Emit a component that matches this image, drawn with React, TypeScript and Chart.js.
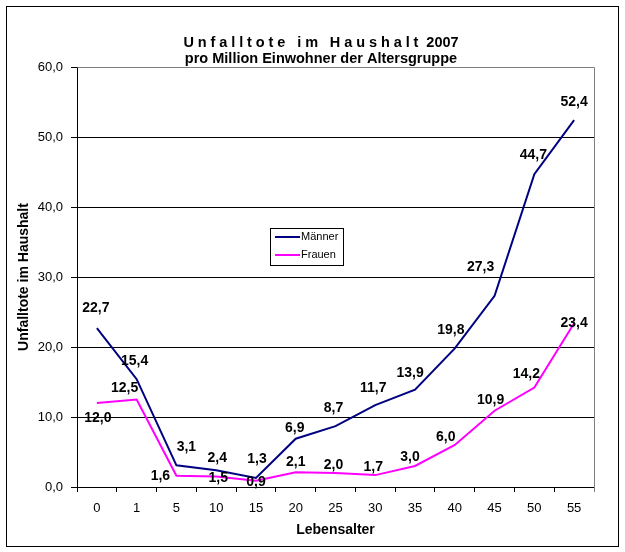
import React, { useEffect, useRef } from 'react';
import { Chart, registerables } from 'chart.js';

Chart.register(...registerables);

// ---- data ----
const ageGroups = ['0', '1', '5', '10', '15', '20', '25', '30', '35', '40', '45', '50', '55'];
const maenner = [22.7, 15.4, 3.1, 2.4, 1.3, 6.9, 8.7, 11.7, 13.9, 19.8, 27.3, 44.7, 52.4];
const frauen = [12.0, 12.5, 1.6, 1.5, 0.9, 2.1, 2.0, 1.7, 3.0, 6.0, 10.9, 14.2, 23.4];
const yMin = 0;
const yMax = 60;
const yStep = 10;

const titleSpaced = 'Unfalltote im Haushalt';
const titleYear = '2007';
const subtitle = 'pro Million Einwohner der Altersgruppe';
const yTitle = 'Unfalltote im Haushalt';
const xTitle = 'Lebensalter';
const seriesNames = ['Männer', 'Frauen'];

// ---- style ----
const FONT = '"Liberation Sans", Arial, sans-serif';
const colors = ['#000080', '#FF00FF'];
// label offsets (dx, dy) relative to each point, as placed in the original
const labelOffsets = [
  [[-1, -20], [-2, -18], [10, -18], [1, -12], [1, -19], [-1, -11], [-2, -18], [-2, -17], [-5, -17], [-4, -18], [-14, -29], [-1, -19], [0, -18]],
  [[1, 15], [-12, -11], [-16, 0], [2, 2], [0, 1], [0, -10], [-2, -8], [-2, -8], [-5, -9], [-9, -8], [-4, -11], [-8, -13], [0, 0]],
];

const fmt = (v: number) => v.toFixed(1).replace('.', ',');

const decorPlugin = {
  id: 'decor',
  beforeDraw(chart: any) {
    const ctx = chart.ctx;
    ctx.save();
    ctx.fillStyle = '#fff';
    ctx.fillRect(0, 0, chart.width, chart.height);
    ctx.restore();
  },
  afterDraw(chart: any) {
    const ctx = chart.ctx;
    const area = chart.chartArea;
    ctx.save();
    // outer frame
    ctx.strokeStyle = '#000';
    ctx.lineWidth = 1;
    ctx.strokeRect(6.5, 6.5, 612, 540);

    // gray plot border (top/right)
    ctx.strokeStyle = '#808080';
    ctx.beginPath();
    ctx.moveTo(Math.round(area.left) + 0.5, Math.round(area.top) + 0.5);
    ctx.lineTo(Math.round(area.right) + 0.5, Math.round(area.top) + 0.5);
    ctx.lineTo(Math.round(area.right) + 0.5, Math.round(area.bottom) + 5);
    ctx.stroke();

    // title
    ctx.fillStyle = '#000';
    ctx.font = `bold 14.5px ${FONT}`;
    ctx.textBaseline = 'alphabetic';
    ctx.textAlign = 'left';
    const spacing = 3.9;
    let w = 0;
    for (const ch of titleSpaced) w += ctx.measureText(ch).width + spacing;
    w += ctx.measureText(' ').width;
    const total = w + ctx.measureText(titleYear).width;
    let x = 321 - total / 2;
    for (const ch of titleSpaced) {
      ctx.fillText(ch, x, 47);
      x += ctx.measureText(ch).width + spacing;
    }
    x += ctx.measureText(' ').width;
    ctx.fillText(titleYear, x, 47);
    ctx.textAlign = 'center';
    ctx.fillText(subtitle, 321, 63);

    // axis titles
    ctx.font = `bold 14px ${FONT}`;
    ctx.textBaseline = 'middle';
    ctx.fillText(xTitle, (area.left + area.right) / 2, 530);
    ctx.save();
    ctx.translate(24, (area.top + area.bottom) / 2);
    ctx.rotate(-Math.PI / 2);
    ctx.fillText(yTitle, 0, 0);
    ctx.restore();

    // data labels
    ctx.font = `bold 14px ${FONT}`;
    ctx.textAlign = 'center';
    ctx.textBaseline = 'middle';
    chart.data.datasets.forEach((ds: any, i: number) => {
      const meta = chart.getDatasetMeta(i);
      meta.data.forEach((pt: any, j: number) => {
        const off = labelOffsets[i][j] || [0, -16];
        ctx.fillText(fmt(ds.data[j]), pt.x + off[0], pt.y + off[1]);
      });
    });

    // legend
    ctx.fillStyle = '#fff';
    ctx.fillRect(271, 229, 72, 36);
    ctx.strokeStyle = '#000';
    ctx.lineWidth = 1;
    ctx.strokeRect(270.5, 228.5, 73, 37);
    ctx.font = `11px ${FONT}`;
    ctx.textAlign = 'left';
    seriesNames.forEach((name, i) => {
      const y = 237 + i * 18;
      ctx.strokeStyle = colors[i];
      ctx.lineWidth = 2;
      ctx.beginPath();
      ctx.moveTo(275, y);
      ctx.lineTo(300, y);
      ctx.stroke();
      ctx.fillStyle = '#000';
      ctx.fillText(name, 301, y);
    });
    ctx.restore();
  },
};

export default function App() {
  const ref = useRef<HTMLCanvasElement | null>(null);
  useEffect(() => {
    if (!ref.current) return;
    const chart = new Chart(ref.current, {
      type: 'line',
      data: {
        labels: ageGroups,
        datasets: [
          { label: seriesNames[0], data: maenner, borderColor: colors[0], backgroundColor: colors[0], borderWidth: 2, pointRadius: 0, tension: 0, fill: false },
          { label: seriesNames[1], data: frauen, borderColor: colors[1], backgroundColor: colors[1], borderWidth: 2, pointRadius: 0, tension: 0, fill: false },
        ],
      },
      options: {
        responsive: false,
        animation: false,
        devicePixelRatio: 1,
        layout: { padding: { left: 0, top: 67, right: 31, bottom: 0 } },
        plugins: { legend: { display: false }, title: { display: false }, tooltip: { enabled: false } },
        scales: {
          x: {
            type: 'category',
            offset: true,
            grid: { offset: true, drawOnChartArea: false, drawTicks: true, tickLength: 5, color: '#000' },
            border: { display: true, color: '#000' },
            ticks: { color: '#000', font: { family: FONT, size: 13 }, padding: 9, maxRotation: 0, autoSkip: false },
            afterFit: (s: any) => { s.height = 65; },
          },
          y: {
            min: yMin,
            max: yMax,
            grid: {
              color: (c: any) => (c.tick && c.tick.value === yMax ? '#808080' : '#000'),
              tickColor: '#000',
              tickLength: 6,
              drawTicks: true,
            },
            border: { display: true, color: '#000' },
            ticks: { stepSize: yStep, color: '#000', font: { family: FONT, size: 13 }, padding: 8, callback: (v: any) => fmt(Number(v)) },
            afterFit: (s: any) => { s.width = 77; },
          },
        },
      },
      plugins: [decorPlugin],
    });
    return () => chart.destroy();
  }, []);
  return (
    <div style={{ position: 'absolute', left: 0, top: 0, width: 625, height: 552 }}>
      <canvas ref={ref} width={625} height={552} style={{ display: 'block' }} />
    </div>
  );
}
